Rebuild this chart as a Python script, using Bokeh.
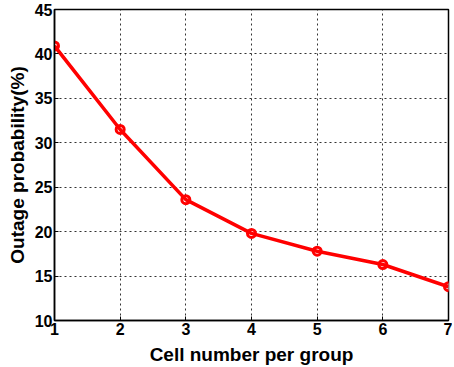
from bokeh.plotting import figure
from bokeh.embed import file_html
from bokeh.resources import INLINE
from bokeh.models import Range1d, FixedTicker

cells = [1, 2, 3, 4, 5, 6, 7]
outage = [40.9, 31.5, 23.6, 19.8, 17.8, 16.3, 13.8]
x_ticks = [1, 2, 3, 4, 5, 6, 7]
y_ticks = [10, 15, 20, 25, 30, 35, 40, 45]

p = figure(frame_width=394, frame_height=311, output_backend="svg",
           toolbar_location=None, min_border_left=54, min_border_top=9,
           min_border_right=4, min_border_bottom=40,
           x_range=Range1d(1, 7), y_range=Range1d(10, 45))

p.scatter(cells, outage, size=8, line_color="#ff0000", fill_color="white", line_width=3)
p.line(cells, outage, line_color="#ff0000", line_width=3.5)

font = "Liberation Sans"
for ax in (p.xaxis[0], p.yaxis[0]):
    ax.major_label_text_font = font
    ax.major_label_text_font_style = "bold"
    ax.major_label_text_font_size = "16px"
    ax.major_label_text_color = "black"
    ax.axis_label_text_font = font
    ax.axis_label_text_font_style = "bold"
    ax.axis_label_text_font_size = "19px"
    ax.axis_label_text_color = "black"
    ax.axis_line_width = 1.5
    ax.axis_line_color = "black"
    ax.major_tick_in = 4
    ax.major_tick_out = 0
    ax.minor_tick_line_color = None
    ax.major_label_standoff = 2

p.xaxis.ticker = FixedTicker(ticks=x_ticks)
p.yaxis.ticker = FixedTicker(ticks=y_ticks)
p.xaxis.axis_label = "Cell number per group"
p.yaxis.axis_label = "Outage probability(%)"
p.xaxis.axis_label_standoff = 6
p.yaxis.axis_label_standoff = 4

p.xgrid.ticker = FixedTicker(ticks=x_ticks)
p.ygrid.ticker = FixedTicker(ticks=y_ticks)
for g in (p.xgrid[0], p.ygrid[0]):
    g.grid_line_color = "black"
    g.grid_line_dash = "2 3"
    g.grid_line_width = 1
    g.grid_line_alpha = 0.8

p.outline_line_color = "black"
p.outline_line_width = 1.5
p.outline_line_alpha = 1
p.background_fill_color = "white"
p.border_fill_color = "white"

open("out.html", "w").write(file_html(p, INLINE))
